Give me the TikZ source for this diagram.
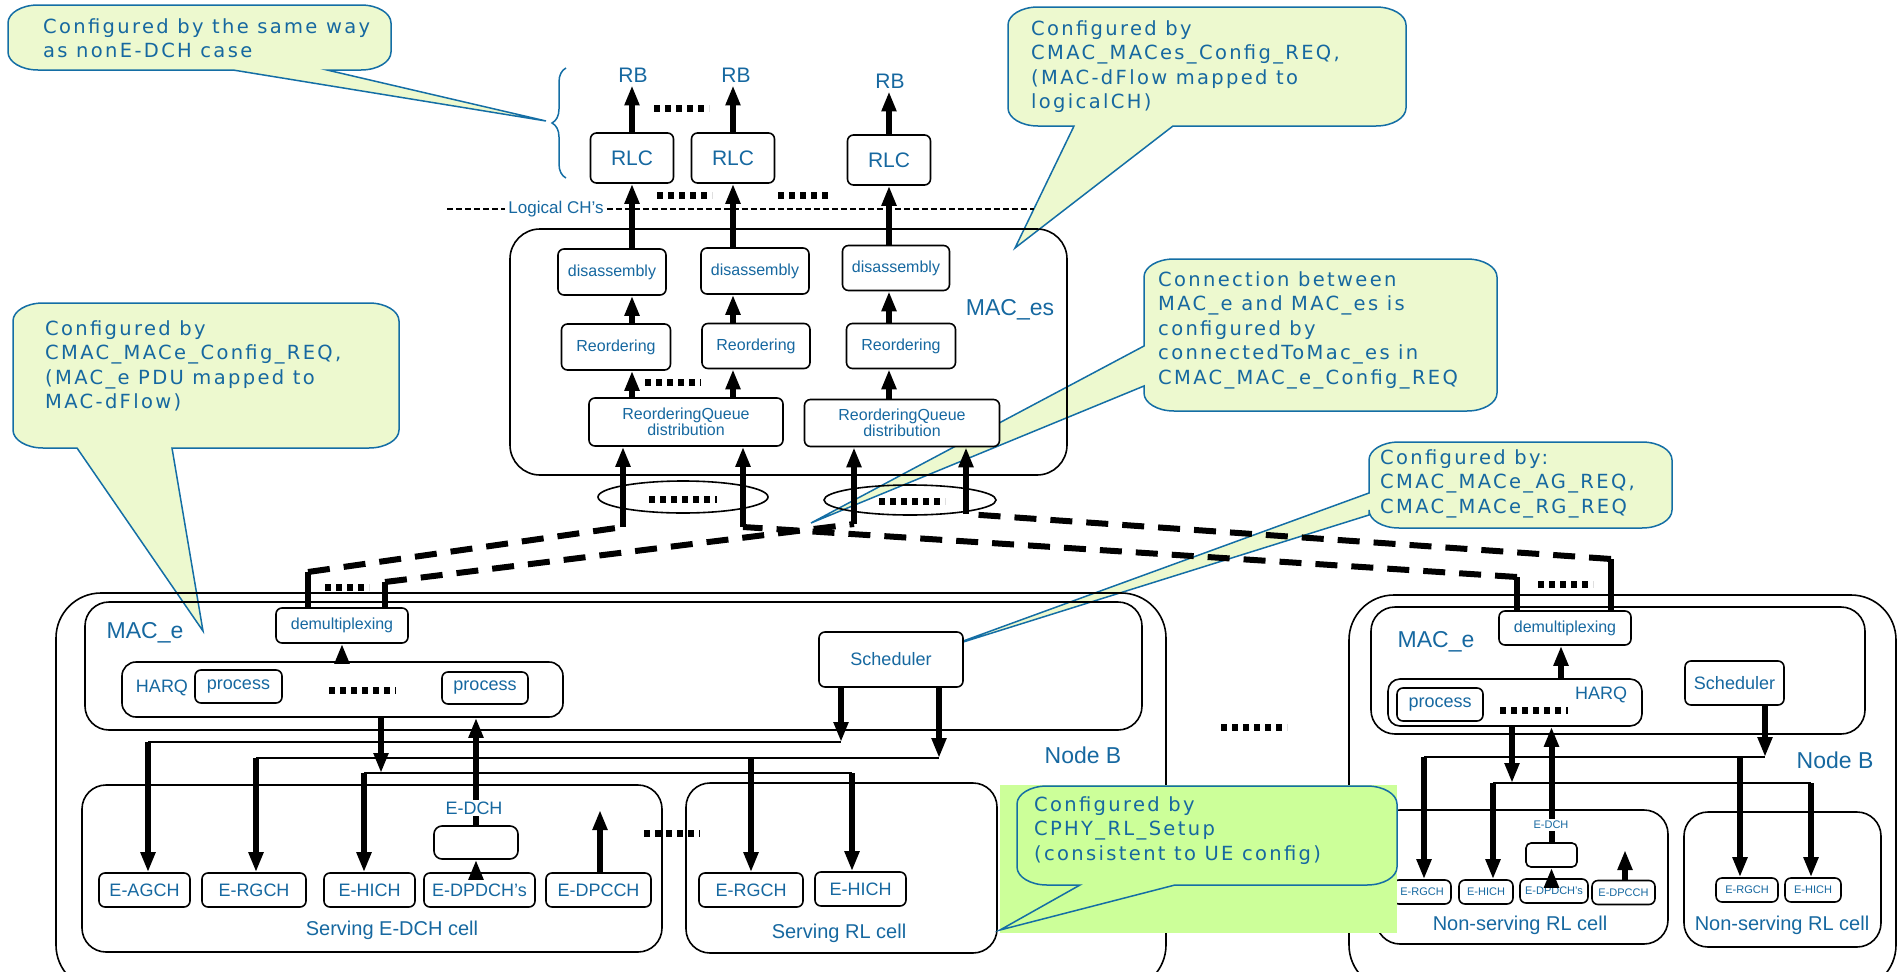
\documentclass[tikz,border=0pt]{standalone}
\usepackage{fontspec}
\setmainfont{Liberation Sans}
\newfontfamily\calfont{DejaVu Sans}[LetterSpace=12]
\usetikzlibrary{arrows.meta}
\usetikzlibrary{decorations.pathreplacing}
\usepackage{xcolor}

\definecolor{txtblue}{RGB}{22,104,160}
\definecolor{calline}{RGB}{20,110,165}
\definecolor{calfill}{RGB}{237,249,207}
\definecolor{calgreen}{RGB}{204,255,153}

% callout with the pointer on the bottom edge: l t r b base1 base2 tip fill
\newcommand{\calloutdown}[8]{%
\filldraw[callout,fill=#8] (#1+30,#2) -- (#3-30,#2)
  arc[start angle=90,end angle=0,x radius=30pt,y radius=18pt] -- (#3,#4-18)
  arc[start angle=0,end angle=-90,x radius=30pt,y radius=18pt] -- (#6,#4) -- #7 -- (#5,#4) -- (#1+30,#4)
  arc[start angle=270,end angle=180,x radius=30pt,y radius=18pt] -- (#1,#2+18)
  arc[start angle=180,end angle=90,x radius=30pt,y radius=18pt] -- cycle;}

% callout with the pointer on the left edge: l t r b y1 y2 tip fill
\newcommand{\calloutleft}[8]{%
\filldraw[callout,fill=#8] (#1+30,#2) -- (#3-30,#2)
  arc[start angle=90,end angle=0,x radius=30pt,y radius=18pt] -- (#3,#4-18)
  arc[start angle=0,end angle=-90,x radius=30pt,y radius=18pt] -- (#1+30,#4)
  arc[start angle=270,end angle=180,x radius=30pt,y radius=18pt] -- (#1,#6) -- #7 -- (#1,#5) -- (#1,#2+18)
  arc[start angle=180,end angle=90,x radius=30pt,y radius=18pt] -- cycle;}

\tikzset{
  box/.style={draw, rounded corners=6pt, line width=1.6pt, fill=white, text=txtblue, inner sep=0pt, align=center},
  cellbox/.style={draw, rounded corners=24pt, line width=1.6pt},
  bigarrow/.style={line width=6pt, -{Triangle[length=20pt,width=14pt]}},
  thickline/.style={line width=6pt},
  bus/.style={line width=2pt},
  dashlink/.style={line width=6pt, dash pattern=on 22pt off 14pt},
  dotrow/.style={line width=7pt, dash pattern=on 6pt off 5pt},
  lbl/.style={text=txtblue, inner sep=0pt},
  callout/.style={draw=calline, line width=1.5pt},
  caltext/.style={text=txtblue, align=left, inner sep=0pt, anchor=north west,
    font=\calfont\fontsize{19.5}{24.5}\selectfont},
  rbf/.style={font=\fontsize{21}{24}\selectfont},
  esf/.style={font=\fontsize{16}{16}\selectfont},
  boxf/.style={font=\fontsize{18}{20}\selectfont},
  bigf/.style={font=\fontsize{23}{26}\selectfont},
  cellf/.style={font=\fontsize{20}{22}\selectfont},
  smallf/.style={font=\fontsize{11}{12}\selectfont},
}

\begin{document}
\begin{tikzpicture}[x=1pt,y=-1pt]
\useasboundingbox (0,0) rectangle (1899,972);

% callouts (behind)
\calloutdown{8}{5}{391}{70}{233}{327}{(546,121)}{calfill}
\node[caltext] (noteRB) at (43,18) {Configured by the same way\\as nonE-DCH case};

\calloutdown{1008}{7}{1406}{126}{1074}{1173}{(1015,248)}{calfill}
\node[caltext] (noteES) at (1031,20) {Configured by\\CMAC\_MACes\_Config\_REQ,\\(MAC-dFlow mapped to\\logicalCH)};

\calloutleft{1144}{259}{1497}{411}{346}{386}{(811,523)}{calfill}
\node[caltext] (noteConn) at (1158,271) {Connection between\\MAC\_e and MAC\_es is\\configured by\\connectedToMac\_es in\\CMAC\_MAC\_e\_Config\_REQ};

\calloutleft{1369}{442}{1672}{528}{493}{515}{(944,648)}{calfill}
\node[caltext] (noteSch) at (1380,449) {Configured by:\\CMAC\_MACe\_AG\_REQ,\\CMAC\_MACe\_RG\_REQ};

\calloutdown{13}{303}{399}{448}{77}{172}{(203,631)}{calfill}
\node[caltext] (noteE) at (45,320) {Configured by\\CMAC\_MACe\_Config\_REQ,\\(MAC\_e PDU mapped to\\MAC-dFlow)};

\draw[calline, line width=1.5pt, decorate, decoration={brace, amplitude=14pt}] (566,178) -- (566,68);

% RLC / RB
\node[box, rbf, minimum width=83pt, minimum height=50pt] (rlc1) at (632,158) {RLC};
\node[box, rbf, minimum width=83pt, minimum height=50pt] (rlc2) at (733,158) {RLC};
\node[box, rbf, minimum width=83pt, minimum height=50pt] (rlc3) at (889,160) {RLC};
\node[lbl, rbf, inner sep=3pt] (rb1) at (633,75) {RB};
\node[lbl, rbf, inner sep=3pt] (rb2) at (736,75) {RB};
\node[lbl, rbf, inner sep=3pt] (rb3) at (890,81) {RB};
\draw[bigarrow] (rlc1.north) -- (rlc1 |- rb1.south);
\draw[bigarrow] (rlc2.north) -- (rlc2 |- rb2.south);
\draw[bigarrow] (rlc3.north) -- (rlc3 |- rb3.south);
\draw[dotrow] (654,108) -- (709,108);
\draw[dotrow] (657,195) -- (712,195);
\draw[dotrow] (778,195) -- (829,195);

% logical channels
\node[lbl, font=\fontsize{17}{19}\selectfont, fill=white, inner sep=3pt] (lch) at (556,209) {Logical CH's};
\draw[line width=2pt, dash pattern=on 6pt off 3pt] (447,209) -- (lch.west);
\draw[line width=2pt, dash pattern=on 6pt off 3pt] (lch.east) -- (1034,209);

% MAC_es
\draw[cellbox, rounded corners=30pt] (510,229) rectangle (1067,475);
\node[lbl, bigf] (maces) at (1010,310) {MAC\_es};

\node[box, esf, minimum width=108pt, minimum height=46pt] (dis1) at (612,272) {disassembly};
\node[box, esf, minimum width=108pt, minimum height=46pt] (dis2) at (755,271) {disassembly};
\node[box, esf, minimum width=107pt, minimum height=45pt] (dis3) at (896,268) {disassembly};
\node[box, esf, minimum width=109pt, minimum height=46pt] (reo1) at (616,347) {Reordering};
\node[box, esf, minimum width=108pt, minimum height=45pt] (reo2) at (756,346) {Reordering};
\node[box, esf, minimum width=109pt, minimum height=45pt] (reo3) at (901,346) {Reordering};
\node[box, esf, minimum width=194pt, minimum height=48pt] (rq1) at (686,422) {ReorderingQueue\\distribution};
\node[box, esf, minimum width=195pt, minimum height=47pt] (rq2) at (902,423) {ReorderingQueue\\distribution};

\draw[bigarrow] (dis1.north -| rlc1) -- (rlc1.south);
\draw[bigarrow] (dis2.north -| rlc2) -- (rlc2.south);
\draw[bigarrow] (dis3.north -| rlc3) -- (rlc3.south);
\draw[bigarrow] (reo1.north -| rlc1) -- (dis1.south -| rlc1);
\draw[bigarrow] (reo2.north -| rlc2) -- (dis2.south -| rlc2);
\draw[bigarrow] (reo3.north -| rlc3) -- (dis3.south -| rlc3);
\draw[bigarrow] (rq1.north -| rlc1) -- (reo1.south -| rlc1);
\draw[bigarrow] (rq1.north -| rlc2) -- (reo2.south -| rlc2);
\draw[bigarrow] (rq2.north -| rlc3) -- (reo3.south -| rlc3);
\draw[dotrow] (645,382) -- (701,382);

% inputs of MAC_es
\coordinate (in1) at (623,527);
\coordinate (in2) at (743,527);
\coordinate (in3) at (854,524);
\coordinate (in4) at (966,514);
\draw[line width=1.6pt] (683,497) ellipse [x radius=85pt, y radius=16pt];
\draw[line width=1.6pt] (910,500) ellipse [x radius=86pt, y radius=15pt];
\draw[dotrow] (649,499) -- (717,499);
\draw[dotrow] (879,501) -- (945,501);
\draw[bigarrow] (in1) -- (in1 |- rq1.south);
\draw[bigarrow] (in2) -- (in2 |- rq1.south);
\draw[bigarrow] (in3) -- (in3 |- rq2.south);
\draw[bigarrow] (in4) -- (in4 |- rq2.south);

% left Node B
\draw[cellbox, rounded corners=45pt] (56,593) rectangle (1166,990);
\draw[cellbox] (85,602) rectangle (1142,730);
\node[lbl, bigf] (maceL) at (145,633) {MAC\_e};
\node[box, esf, minimum width=132pt, minimum height=35pt] (demuxL) at (342,625.5) {demultiplexing};
\node[box, minimum width=441pt, minimum height=55pt, rounded corners=14pt] (harqL) at (342.5,689.5) {};
\node[lbl, boxf] (harqlblL) at (162,688) {HARQ};
\node[box, boxf, minimum width=87pt, minimum height=33pt] (procL1) at (238.5,686.5) {process};
\node[box, boxf, minimum width=86pt, minimum height=32pt] (procL2) at (485,688) {process};
\draw[dotrow] (329,690) -- (396,690);
\draw[bigarrow] (harqL.north -| demuxL) -- (demuxL.south);
\node[box, boxf, minimum width=144pt, minimum height=55pt] (schedL) at (891,659.5) {Scheduler};
\node[lbl, bigf] (nodebL) at (1083,755) {Node B};

\coordinate (dl1) at (308,572);
\coordinate (dl2) at (385,582);
\draw[thickline] (dl1) -- (dl1 |- demuxL.north);
\draw[thickline] (dl2) -- (dl2 |- demuxL.north);
\draw[dashlink] (dl1) -- (in1);
\draw[dashlink] (dl2) -- (in3);
\draw[dotrow] (325,587) -- (369,587);

\draw[cellbox] (82,785) rectangle (662,952);
\node[lbl, cellf] (servElbl) at (392,930) {Serving E-DCH cell};
\draw[cellbox] (686,783) rectangle (997,953);
\node[lbl, cellf] (servRlbl) at (839,933) {Serving RL cell};

\node[box, boxf, minimum width=91pt, minimum height=34pt] (eagch) at (144.5,890) {E-AGCH};
\node[box, boxf, minimum width=104pt, minimum height=34pt] (ergchA) at (254,890) {E-RGCH};
\node[box, boxf, minimum width=91pt, minimum height=34pt] (ehichA) at (369.5,890) {E-HICH};
\node[box, boxf, minimum width=111pt, minimum height=34pt] (edpdchA) at (479.5,890) {E-DPDCH's};
\node[box, boxf, minimum width=105pt, minimum height=34pt] (edpcchA) at (598.5,890) {E-DPCCH};
\node[box, boxf, minimum width=104pt, minimum height=34pt] (ergchB) at (751,890) {E-RGCH};
\node[box, boxf, minimum width=91pt, minimum height=34pt] (ehichB) at (860.5,889) {E-HICH};
\node[box, minimum width=84pt, minimum height=33pt, rounded corners=8pt] (edchL) at (476,842.5) {};
\draw[bigarrow] (edpdchA.north -| edchL) -- (edchL.south);
\draw[bigarrow] (edchL.north) -- (harqL.south -| edchL);
\node[lbl, boxf, fill=white, inner sep=2pt] (edchlblL) at (474,808) {E-DCH};
\coordinate (dpcchL) at (600,810);
\draw[bigarrow] (edpcchA.north -| dpcchL) -- (dpcchL);
\draw[dotrow] (644,833) -- (700,833);

% buses of the left Node B
\coordinate (busA) at (841,742);
\coordinate (busB) at (939,758);
\coordinate (busC) at (381,773);
\draw[bigarrow] (busA |- schedL.south) -- (busA);
\draw[bigarrow] (busB |- schedL.south) -- (busB);
\draw[bigarrow] (busC |- harqL.south) -- (busC);
\draw[bus] (148,742) -- (busA);
\draw[bus] (256,758) -- (busB);
\draw[bus] (364,773) -- (852,773);
\draw[bigarrow] (148,742) -- (148,742 |- eagch.north);
\draw[bigarrow] (256,758) -- (256,758 |- ergchA.north);
\draw[bigarrow] (751,758) -- (ergchB.north);
\draw[bigarrow] (364,773) -- (364,773 |- ehichA.north);
\draw[bigarrow] (852,773) -- (852,773 |- ehichB.north);

\draw[dotrow] (1221,727) -- (1287,727);

% right Node B
\draw[cellbox, rounded corners=45pt] (1349,595) rectangle (1896,990);
\draw[cellbox] (1371,607) rectangle (1865,734);
\node[lbl, bigf] (maceR) at (1436,642) {MAC\_e};
\node[box, esf, minimum width=132pt, minimum height=34pt] (demuxR) at (1565,628) {demultiplexing};
\node[box, minimum width=254pt, minimum height=47pt, rounded corners=12pt] (harqR) at (1515,702.5) {};
\node[box, boxf, minimum width=86pt, minimum height=33pt] (procR) at (1440,704.5) {process};
\node[lbl, boxf] (harqlblR) at (1601,695) {HARQ};
\draw[dotrow] (1500,710) -- (1568,710);
\draw[bigarrow] (harqR.north -| 1561,0) -- (1561,0 |- demuxR.south);
\node[box, boxf, minimum width=99pt, minimum height=44pt] (schedR) at (1734.5,683) {Scheduler};
\node[lbl, bigf] (nodebR) at (1835,760) {Node B};

\coordinate (dr1) at (1517,577);
\coordinate (dr2) at (1611,559);
\draw[thickline] (dr1) -- (dr1 |- demuxR.north);
\draw[thickline] (dr2) -- (dr2 |- demuxR.north);
\draw[dashlink] (dr1) -- (in2);
\draw[dashlink] (dr2) -- (in4);
\draw[dotrow] (1538,584) -- (1593,584);

\draw[cellbox] (1376,810) rectangle (1668,944);
\node[lbl, cellf] (nsAlbl) at (1520,925) {Non-serving RL cell};
\draw[cellbox] (1684,812) rectangle (1881,947);
\node[lbl, cellf] (nsBlbl) at (1782,925) {Non-serving RL cell};

\node[box, smallf, minimum width=58pt, minimum height=24pt] (ergchC) at (1422,892) {E-RGCH};
\node[box, smallf, minimum width=54pt, minimum height=24pt] (ehichC) at (1486,892) {E-HICH};
\node[box, smallf, minimum width=68pt, minimum height=24pt] (edpdchC) at (1554,891) {E-DPDCH's};
\node[box, smallf, minimum width=63pt, minimum height=24pt] (edpcchC) at (1623.5,892.5) {E-DPCCH};
\node[box, smallf, minimum width=62pt, minimum height=24pt] (ergchD) at (1747,890) {E-RGCH};
\node[box, smallf, minimum width=56pt, minimum height=24pt] (ehichD) at (1813,890) {E-HICH};
\node[box, minimum width=51pt, minimum height=24pt, rounded corners=5pt] (edchR) at (1551.5,855) {};
\draw[bigarrow] (edpdchC.north -| edchR) -- (edchR.south);
\draw[bigarrow] (edchR.north) -- (harqR.south -| edchR);
\node[lbl, smallf, fill=white, inner sep=2pt] (edchlblR) at (1551,825) {E-DCH};
\coordinate (dpcchR) at (1625,850);
\draw[bigarrow] (edpcchC.north -| dpcchR) -- (dpcchR);

% buses of the right Node B
\coordinate (busD) at (1765,757);
\coordinate (busE) at (1512,783);
\draw[bigarrow] (busD |- schedR.south) -- (busD);
\draw[bigarrow] (busE |- harqR.south) -- (busE);
\draw[bus] (1424,757) -- (busD);
\draw[bus] (1493,783) -- (1811,783);
\draw[bigarrow] (1424,757) -- (1424,757 |- ergchC.north);
\draw[bigarrow] (1740,757) -- (1740,757 |- ergchD.north);
\draw[bigarrow] (1493,783) -- (1493,783 |- ehichC.north);
\draw[bigarrow] (1811,783) -- (1811,783 |- ehichD.north);

% physical layer callout (on top)
\fill[calgreen] (1000,785) rectangle (1397,933);
\calloutdown{1017}{786}{1397}{885}{1080}{1175}{(1000,930)}{calgreen}
\node[caltext] (notePhy) at (1034,796) {Configured by\\CPHY\_RL\_Setup\\(consistent to UE config)};

\end{tikzpicture}
\end{document}
